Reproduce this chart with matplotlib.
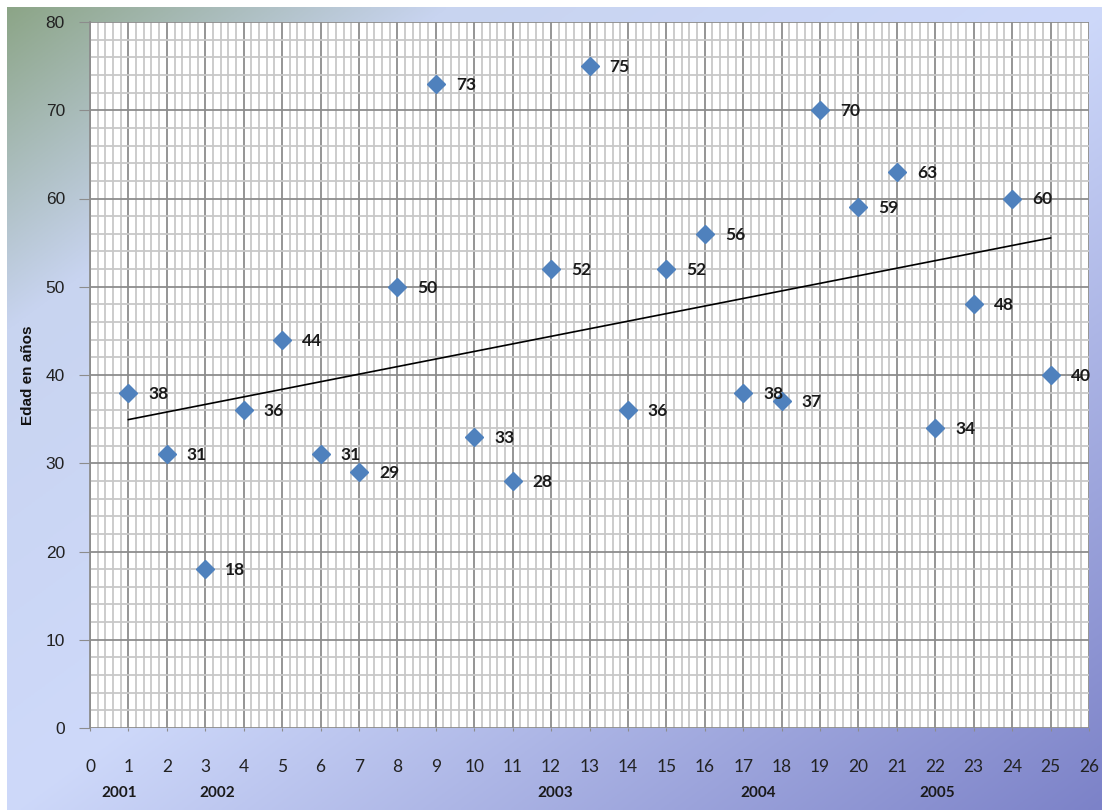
import matplotlib
matplotlib.use("Agg")
import matplotlib.pyplot as plt
import numpy as np
from matplotlib.ticker import MultipleLocator

# data
caso = np.arange(1, 26)
edad = [38, 31, 18, 36, 44, 31, 29, 50, 73, 33, 28, 52, 75,
        36, 52, 56, 38, 37, 70, 59, 63, 34, 48, 60, 40]
years = ["2001", "2002", "2003", "2004", "2005"]
year_pos = [0.75, 3.3, 12.1, 17.4, 22.05]

W, H = 1102, 810
fig = plt.figure(figsize=(W / 100, H / 100), dpi=100)
fig.patch.set_facecolor("white")

# gradient background (green corner -> light blue -> violet)
bg = fig.add_axes([7 / W, 0, 1 - 7 / W, 1 - 7 / H], zorder=-10)
u = np.linspace(0, 1, 400)
v = np.linspace(0, 1, 300)
U, V = np.meshgrid(u, v)
t = (U + V) / 2
stops = [0.0, 0.2, 0.5, 1.0]
cols = np.array([[140, 165, 135], [200, 212, 240], [206, 217, 250], [124, 130, 200]]) / 255
img = np.dstack([np.interp(t, stops, cols[:, k]) for k in range(3)])
bg.imshow(img, aspect="auto", extent=[0, 1, 0, 1])
bg.axis("off")

ax = fig.add_axes([90 / W, 1 - 728 / H, (1089 - 90) / W, (728 - 22) / H])
ax.set_facecolor("white")
ax.set_xlim(0, 26)
ax.set_ylim(0, 80)

ax.xaxis.set_major_locator(MultipleLocator(1))
ax.xaxis.set_minor_locator(MultipleLocator(0.2))
ax.yaxis.set_major_locator(MultipleLocator(10))
ax.yaxis.set_minor_locator(MultipleLocator(2))
ax.grid(which="minor", color="#c8c8c8", linewidth=1.3)
ax.grid(which="major", color="#8c8c8c", linewidth=1.3)
ax.set_axisbelow(True)

for s in ["top", "right", "bottom"]:
    ax.spines[s].set_visible(False)
ax.spines["left"].set_color("#8c8c8c")
ax.spines["left"].set_linewidth(1.3)

ax.tick_params(axis="y", which="major", length=8, color="#8c8c8c", pad=10,
               labelsize=12.5, labelcolor="#222222")
ax.tick_params(axis="x", which="major", length=2, color="#8c8c8c", pad=20,
               labelsize=12.5, labelcolor="#222222")
ax.tick_params(which="minor", length=0)
for lab in ax.get_yticklabels():
    lab.set_fontfamily("Liberation Sans")
for lab in ax.get_xticklabels():
    lab.set_fontfamily("Lato")

# trend line
m, b = np.polyfit(caso, edad, 1)
ax.plot([caso[0], caso[-1]], [m * caso[0] + b, m * caso[-1] + b],
        color="black", linewidth=1.2, zorder=3)

ax.plot(caso, edad, linestyle="none", marker="D", markersize=9,
        color="#4f81bd", zorder=4)
for x, y in zip(caso, edad):
    ax.annotate(str(y), (x, y), xytext=(20, -1), textcoords="offset pixels",
                ha="left", va="center", fontsize=12.5, fontweight="bold",
                family="Lato", color="#1a1a1a", zorder=5)

for yr, xp in zip(years, year_pos):
    ax.annotate(yr, (xp, 0), xytext=(0, -65), textcoords="offset pixels",
                ha="center", va="center", fontsize=11, fontweight="bold",
                family="Lato", color="#1a1a1a", annotation_clip=False)

ax.set_ylabel("Edad en años", fontsize=11, fontweight="bold",
              family="Liberation Sans", color="#111111")
ax.yaxis.set_label_coords(-55 / (1089 - 90), 0.5)

fig.savefig("out.png", dpi=100)
